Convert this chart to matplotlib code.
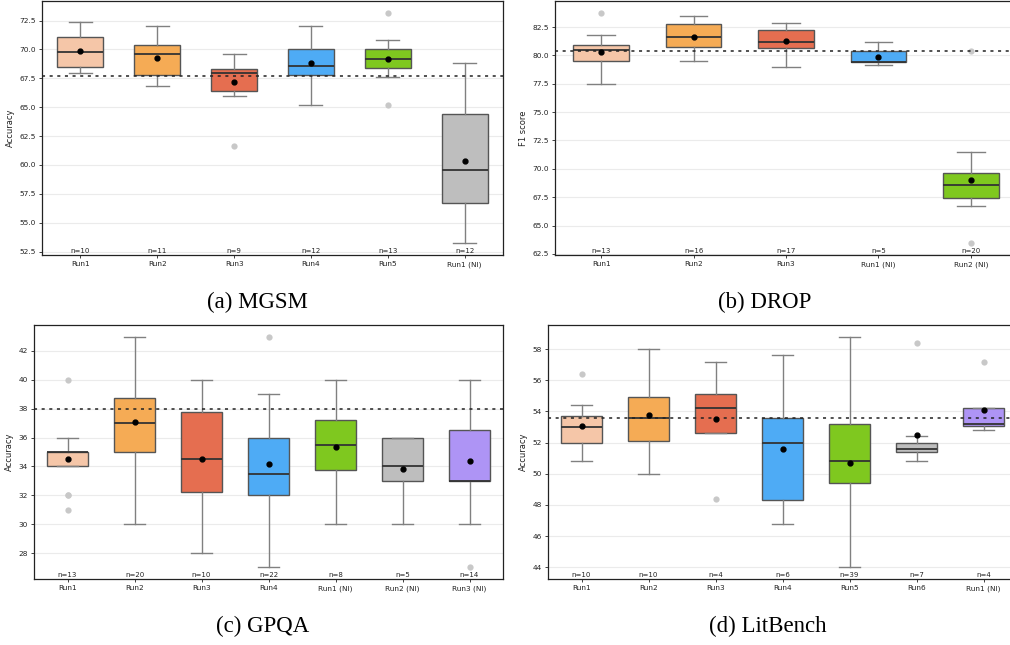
import matplotlib
matplotlib.use("Agg")
import matplotlib.pyplot as plt

W, H = 1010, 645

palette = ['#F5C6A8', '#F5AB55', '#E56E50', '#4EABF5', '#7FC81F', '#BEBEBE', '#AE94F5']

# (a) MGSM
labels_a = ['Run1', 'Run2', 'Run3', 'Run4', 'Run5', 'Run1 (NI)']
q1_a = [68.5, 67.75, 66.4, 67.75, 68.4, 56.7]
med_a = [69.8, 69.6, 68.0, 68.6, 69.2, 59.6]
q3_a = [71.05, 70.4, 68.35, 70.0, 70.0, 64.45]
lo_a = [68.0, 66.8, 66.0, 65.2, 67.6, 53.2]
hi_a = [72.4, 72.0, 69.6, 72.0, 70.8, 68.8]
mean_a = [69.87, 69.25, 67.2, 68.8, 69.17, 60.3]
fliers_a = [[], [], [61.6], [], [73.2, 65.2], []]
n_a = [10, 11, 9, 12, 13, 12]
ref_a = 67.7

# (b) DROP
labels_b = ['Run1', 'Run2', 'Run3', 'Run1 (NI)', 'Run2 (NI)']
q1_b = [79.5, 80.7, 80.65, 79.4, 67.4]
med_b = [80.45, 81.65, 81.2, 79.4, 68.6]
q3_b = [80.9, 82.75, 82.2, 80.35, 69.6]
lo_b = [77.5, 79.5, 79.0, 79.15, 66.7]
hi_b = [81.8, 83.5, 82.85, 81.15, 71.5]
mean_b = [80.27, 81.65, 81.27, 79.9, 69.0]
fliers_b = [[83.75], [], [], [], [80.4, 63.45]]
n_b = [13, 16, 17, 5, 20]
ref_b = 80.35

# (c) GPQA
labels_c = ['Run1', 'Run2', 'Run3', 'Run4', 'Run1 (NI)', 'Run2 (NI)', 'Run3 (NI)']
q1_c = [34, 35, 32.25, 32, 33.75, 33, 33]
med_c = [35, 37, 34.5, 33.5, 35.5, 34, 33]
q3_c = [35, 38.75, 37.75, 36, 37.25, 36, 36.5]
lo_c = [34, 30, 28, 27, 30, 30, 30]
hi_c = [36, 43, 40, 39, 40, 36, 40]
mean_c = [34.54, 37.1, 34.5, 34.18, 35.38, 33.8, 34.36]
fliers_c = [[40, 32, 32, 31], [], [], [43], [], [], [27]]
n_c = [13, 20, 10, 22, 8, 5, 14]
ref_c = 38

# (d) LitBench
labels_d = ['Run1', 'Run2', 'Run3', 'Run4', 'Run5', 'Run6', 'Run1 (NI)']
q1_d = [51.95, 52.1, 52.6, 48.3, 49.4, 51.4, 53.1]
med_d = [53.0, 53.6, 54.2, 52.0, 50.8, 51.6, 53.2]
q3_d = [53.7, 54.9, 55.1, 53.6, 53.2, 52.0, 54.2]
lo_d = [50.8, 50.0, 52.6, 46.8, 44.0, 50.8, 52.8]
hi_d = [54.4, 58.0, 57.2, 57.6, 58.8, 52.4, 54.2]
mean_d = [53.08, 53.75, 53.5, 51.6, 50.7, 52.5, 54.1]
fliers_d = [[56.4], [], [48.4], [], [], [58.4], [57.2]]
n_d = [10, 10, 4, 6, 39, 7, 4]
ref_d = 53.6


def px_axes(fig, left, top, right, bottom):
    return fig.add_axes([left / W, 1 - bottom / H, (right - left) / W, (bottom - top) / H])


def panel(ax, labels, q1, med, q3, lo, hi, mean, fliers, n, ref, ylim, yticks, fmt, ylabel):
    stats = []
    for i in range(len(labels)):
        stats.append(dict(q1=q1[i], med=med[i], q3=q3[i], whislo=lo[i], whishi=hi[i],
                          mean=mean[i], fliers=fliers[i], label=labels[i]))
    pos = list(range(len(labels)))
    bp = ax.bxp(stats, positions=pos, widths=0.6, patch_artist=True, showmeans=True,
                boxprops=dict(edgecolor='#555555', linewidth=1.0),
                whiskerprops=dict(color='#808080', linewidth=1.0),
                capprops=dict(color='#808080', linewidth=1.0),
                medianprops=dict(color='#333333', linewidth=1.3),
                meanprops=dict(marker='o', markerfacecolor='black', markeredgecolor='black',
                               markersize=3.5),
                flierprops=dict(marker='o', markerfacecolor='#C8C8C8', markeredgecolor='none',
                                markersize=4.5))
    for patch, c in zip(bp['boxes'], palette):
        patch.set_facecolor(c)
    for art in bp['means']:
        art.set_zorder(5)
    ax.axhline(ref, color='#222222', linestyle=(0, (2, 3)), linewidth=1.1, zorder=4)
    ax.set_xlim(-0.5, len(labels) - 0.5)
    ax.set_ylim(*ylim)
    ax.set_yticks(yticks)
    ax.set_yticklabels([fmt.format(t) for t in yticks])
    ax.set_xticks(pos)
    ax.set_xticklabels(labels)
    ax.yaxis.grid(True, color='#EBEBEB', linewidth=0.8)
    ax.set_axisbelow(True)
    ax.tick_params(labelsize=5.3, length=2.5, width=0.6, pad=2, colors='#222222')
    ax.set_ylabel(ylabel, fontsize=6, color='#222222', labelpad=3)
    for s in ax.spines.values():
        s.set_linewidth(0.9)
        s.set_color('#222222')
    for x, k in zip(pos, n):
        ax.text(x, ylim[0] + (ylim[1] - ylim[0]) * 0.004, 'n=%d' % k, ha='center', va='bottom',
                fontsize=5, color='#222222')


fig = plt.figure(figsize=(W / 100, H / 100), dpi=100)

ax_a = px_axes(fig, 42, 1, 503, 255)
panel(ax_a, labels_a, q1_a, med_a, q3_a, lo_a, hi_a, mean_a, fliers_a, n_a, ref_a,
      (52.2, 74.2), [52.5 + 2.5 * i for i in range(9)], '{:.1f}', 'Accuracy')

ax_b = px_axes(fig, 555, 1, 1017, 255)
panel(ax_b, labels_b, q1_b, med_b, q3_b, lo_b, hi_b, mean_b, fliers_b, n_b, ref_b,
      (62.4, 84.8), [62.5 + 2.5 * i for i in range(9)], '{:.1f}', 'F1 score')

ax_c = px_axes(fig, 34, 325, 503, 579)
panel(ax_c, labels_c, q1_c, med_c, q3_c, lo_c, hi_c, mean_c, fliers_c, n_c, ref_c,
      (26.2, 43.8), list(range(28, 43, 2)), '{:d}', 'Accuracy')

ax_d = px_axes(fig, 548, 325, 1017, 579)
panel(ax_d, labels_d, q1_d, med_d, q3_d, lo_d, hi_d, mean_d, fliers_d, n_d, ref_d,
      (43.25, 59.55), list(range(44, 59, 2)), '{:d}', 'Accuracy')

cap = dict(fontsize=16.5, family='Liberation Serif', ha='center', va='baseline', color='black')
fig.text(257 / W, 1 - 308 / H, '(a) MGSM', **cap)
fig.text(765 / W, 1 - 308 / H, '(b) DROP', **cap)
fig.text(263 / W, 1 - 632 / H, '(c) GPQA', **cap)
fig.text(768 / W, 1 - 632 / H, '(d) LitBench', **cap)

fig.savefig('out.png', dpi=100)
